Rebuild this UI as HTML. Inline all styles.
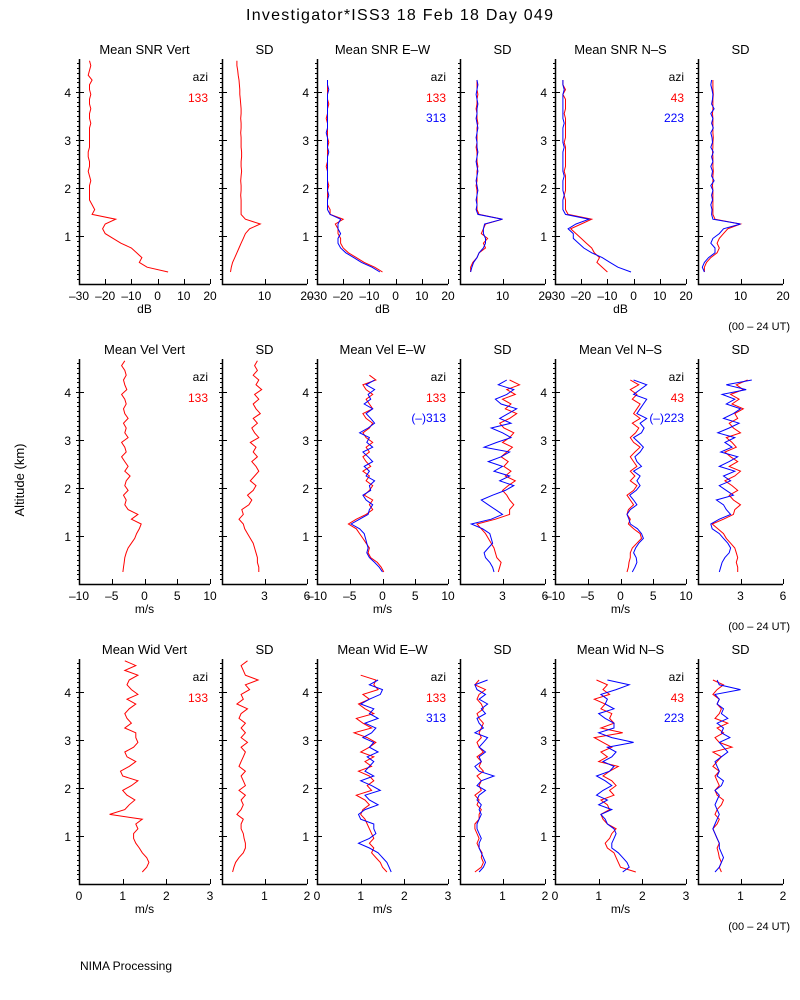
<!DOCTYPE html>
<html><head><meta charset="utf-8"><style>
body{margin:0;background:#fff;}
svg{display:block;font-family:"Liberation Sans",sans-serif;}
</style></head><body>
<svg id="c" width="800" height="1000" xmlns="http://www.w3.org/2000/svg">
<text x="246" y="20" font-size="16" textLength="307" lengthAdjust="spacing">Investigator*ISS3   18 Feb 18 Day 049</text>
<text x="24" y="480" font-size="13" text-anchor="middle" transform="rotate(-90 24 480)">Altitude (km)</text>
<text x="80" y="970" font-size="12">NIMA Processing</text>
</svg>
<script>
// ---- data (altitude start 0.25 km, step 0.1 km) ----
const snrVert133=[4,-4,-7,-6,-8,-10,-14,-17,-20,-21,-20,-16,-25,-24,-25,-26,-26,-26,-26,-25.5,-26,-26.5,-26,-26,-26.5,-26.5,-26,-26,-26,-26,-26,-25.5,-26,-26,-25.5,-26,-26,-25.5,-26,-26,-25,-26.5,-26,-25.5,-26];
const snrVertSd133=[2,2.2,2.5,3,3.5,4,4.5,5,5.5,6.5,9,5.5,4.5,4.5,4.5,4.5,4.4,4.5,4.5,4.4,4.5,4.6,4.5,4.5,4.6,4.6,4.5,4.5,4.5,4.4,4.5,4.5,4.4,4.5,4.5,4.4,4.3,4.2,4.2,4.1,4,3.8,3.7,3.5,3.5];
const snrEw133=[-5,-8,-12,-15,-18,-20,-21,-21,-22,-22,-23,-20,-25,-25,-26,-26,-26,-26,-25.5,-26,-26,-26,-26.5,-26,-26,-26,-26,-25.5,-26,-26,-26,-26,-26.5,-26,-26,-25.5,-26,-26,-26,-26,-26];
const snrEw313=[-6,-9,-13,-16,-19,-21,-22,-22,-21,-22,-22,-21,-25,-26,-26,-26,-25.5,-26,-26,-26,-26,-26,-26,-26,-26,-25.5,-26,-26,-26,-26.5,-26,-26,-26,-26,-26,-26,-26,-26,-25.5,-26,-26];
const snrEwSd133=[2.5,2.5,3,4,4.5,6,5.5,6.5,5,5.5,6,10,4.5,4,4,4,4,4,3.8,4,4,4,4.2,4,4,4,3.8,4,4,4,4,4.2,4,4,3.8,4,4,4.2,4,4,4];
const snrEwSd313=[2.5,2.8,3.2,4,4.5,5.5,6,6,5.5,5.5,5.8,10,4.2,3.8,4,3.8,4,4.2,4,3.8,4,4.2,4,3.8,4,4.2,4,4,3.8,4,4.2,4,3.8,4,4,4.2,4,3.8,4,4.2,4];
const snrNs43=[-10,-12,-14,-13,-15,-16,-18,-20,-22,-24,-20,-16,-25,-26,-26,-26,-26.5,-26,-26,-26,-26,-26.5,-26,-26,-26,-26,-26,-26.5,-26,-26,-26,-26,-26,-26.5,-26,-26,-26,-27,-26,-27,-27];
const snrNs223=[-1,-6,-9,-12,-16,-19,-21,-23,-23,-25,-22,-17,-26,-27,-27,-27,-26.5,-27,-27,-27,-26.5,-27,-27,-27,-27,-27,-26.5,-27,-27,-27,-27,-26.5,-27,-27,-27,-27,-27,-27,-26.5,-27,-27];
const snrNsSd43=[1.5,1.5,2,3,4.5,5,4.5,5,6,7,10,4,3.5,3.5,3.5,3.5,3.5,3.5,3.4,3.5,3.5,3.6,3.5,3.5,3.5,3.4,3.5,3.5,3.6,3.5,3.5,3.5,3.5,3.4,3.5,3.5,3.5,3.6,3.5,3.5,3.5];
const snrNsSd223=[1.5,1,1.5,2.5,4,4,3,3.5,5,6,10,3.5,3.2,3.3,3,3.4,3.2,3.5,3,3.8,3.2,3.4,3,3.5,3.2,3.6,3,3.4,3.3,3,3.6,3.2,3.5,3,3.8,3.2,3.4,3.5,3.3,3,3.2];
const velVert133=[-3.3,-3.2,-3.1,-3,-2.8,-2.5,-2,-1.5,-1.2,-0.8,-0.5,-2,-1,-2.5,-3,-2.8,-3.2,-2.5,-3,-2.8,-2.2,-3,-2.5,-3,-3.5,-2.8,-3,-3.5,-2.5,-3,-2.8,-3.2,-2.5,-3,-3.2,-2.8,-3,-3.5,-2.7,-3,-3.2,-2.8,-3,-3.5,-3];
const velVertSd133=[2.6,2.6,2.5,2.5,2.4,2.3,2.2,2,1.8,1.6,1.5,1.2,1.5,1.4,1.9,2.1,1.8,2.2,2.4,2.0,2.3,2.6,2.4,2.1,2.5,2.2,2.4,2.0,2.6,2.3,2.1,2.5,2.2,2.7,2.4,2.2,2.6,2.3,2.8,2.4,2.6,2.2,2.5,2.3,2.5];
const velEw133=[0.2,-0.2,-0.8,-1.8,-2.2,-2,-2.5,-3,-3.5,-4,-5.2,-4,-2.5,-1.5,-2,-1.5,-2.8,-2,-1.5,-2.5,-2,-3,-1.8,-2.5,-3,-2,-2.5,-1.5,-2.5,-3,-2,-1.5,-2.5,-3,-1.5,-2,-2.5,-1.5,-2.5,-3,-1,-2];
const velEw313=[0,-0.5,-1.2,-2,-2.4,-2.2,-2.4,-2.6,-2.8,-3.5,-4.8,-3.5,-2.2,-2,-1.5,-2.5,-3,-1.8,-2,-1.2,-2.5,-2,-2.8,-1.5,-2.2,-3,-1.5,-2.4,-2,-3.5,-2.2,-1.2,-1.8,-2.5,-1.5,-2.8,-1.8,-2.2,-1.2,-2.5,-1.2];
const velEwSd133=[2.7,2.8,2.9,2.6,2.5,2.4,2.2,2.0,1.8,1.5,1.2,2.5,3.5,3.5,3.8,3.5,3.3,3.0,3.4,3.9,3.2,3.6,3.1,3.4,2.9,3.3,3.7,3.0,3.5,3.8,3.1,2.8,3.5,4.0,3.2,3.6,3.0,3.9,3.3,4.2,3.5];
const velEwSd313=[2.4,2.3,2.1,1.8,1.7,2.0,2.3,2.2,2.1,1.6,0.8,2.2,3.0,2.5,2.0,1.5,2.3,3.2,3.8,2.8,3.5,2.4,3.0,2.0,2.9,3.5,1.7,2.6,3.6,3.0,2.2,3.6,2.8,3.4,4.0,2.9,2.5,3.3,3.8,2.7,3.3];
const velNs43=[1,1.2,1.3,1.5,1.5,1.8,2.5,3.2,3,2,1.2,1.5,1,1.2,2,1.5,1,2,2.5,1.5,2.2,1.5,2.5,2,1.5,2.2,3,2,1.5,2.3,2.8,1.8,3,2,2.5,3,1.8,2.5,1.5,2.8,1.5];
const velNs223=[1.8,2.2,2.5,2.4,2.0,2.3,2.8,3.5,3.2,2.6,1.5,1.3,1.0,1.5,2.5,2.0,1.4,2.4,3,2.5,3.0,2.0,3.2,2.5,2.2,3.0,3.5,2.8,2.0,3.2,3.6,3.0,4.0,2.5,3.0,3.5,4.0,2.0,3.0,4.0,2.0];
const velNsSd43=[2.8,2.8,2.7,2.8,2.7,2.6,2.3,2.0,1.8,1.4,1.0,1.8,2.5,2.6,3.0,2.5,2.2,2.8,2.4,1.9,2.6,3.0,2.2,2.8,2.3,1.9,2.7,2.4,2.0,3.0,2.5,2.2,2.8,2.6,3.2,2.4,2.9,2.3,3.2,2.7,3.5];
const velNsSd223=[1.5,1.6,1.7,1.9,2.2,2.3,2.1,1.8,1.5,1.0,0.9,1.5,2.3,2.0,1.8,1.3,2.5,2.0,1.5,2.3,1.8,2.6,1.5,2.2,2.8,1.6,2.4,1.9,2.6,1.4,2.2,2.9,1.8,2.5,3.0,2.0,2.6,1.7,3.4,2.0,3.8];
const widVert133=[1.45,1.55,1.6,1.55,1.45,1.38,1.3,1.25,1.25,1.35,1.3,1.45,0.7,1.05,1.15,1.28,1.1,1.0,1.2,1.35,1.0,0.95,1.15,1.3,1.1,1.05,1.25,1.35,1.3,1.3,1.05,1.2,1.1,1.05,1.15,1.3,1.1,1.35,1.2,1.1,1.15,1.35,1.05,1.3,1.05];
const widVertSd133=[0.25,0.28,0.32,0.4,0.5,0.55,0.55,0.52,0.5,0.45,0.45,0.5,0.35,0.45,0.5,0.45,0.55,0.4,0.55,0.5,0.45,0.55,0.4,0.45,0.5,0.55,0.45,0.6,0.45,0.55,0.45,0.55,0.4,0.45,0.6,0.35,0.5,0.45,0.65,0.55,0.85,0.55,0.5,0.45,0.6];
const widEw133=[1.6,1.5,1.45,1.35,1.25,1.3,1.2,1.3,1.25,1.2,1.15,1.1,1.0,1.05,1.2,1.1,0.9,1.25,1.15,1.3,1.2,0.95,1.25,1.1,1.3,1.0,1.2,1.35,1.15,0.85,1.25,1.05,0.9,1.3,1.1,0.95,1.2,1.05,1.4,1.3,1.35,1.0];
const widEw313=[1.7,1.65,1.6,1.5,1.4,1.2,0.95,1.2,1.35,1.3,1.3,1.0,0.95,1.1,1.4,1.2,1.1,1.45,1.25,1.0,1.3,1.1,1.2,1.3,1.15,1.4,1.2,1.3,1.05,1.25,1.35,1.1,1.4,1.2,1.3,1.0,1.2,1.45,1.5,1.2,1.4];
const widEwSd133=[0.35,0.5,0.55,0.5,0.52,0.45,0.4,0.45,0.4,0.35,0.35,0.45,0.45,0.5,0.4,0.45,0.35,0.5,0.45,0.5,0.4,0.55,0.45,0.5,0.4,0.55,0.45,0.4,0.5,0.45,0.5,0.55,0.45,0.4,0.55,0.5,0.4,0.45,0.6,0.35,0.45];
const widEwSd313=[0.45,0.55,0.6,0.55,0.5,0.45,0.45,0.5,0.45,0.4,0.4,0.45,0.5,0.45,0.5,0.4,0.45,0.6,0.4,0.5,0.8,0.45,0.35,0.5,0.45,0.6,0.45,0.55,0.65,0.35,0.55,0.45,0.4,0.6,0.5,0.65,0.45,0.6,0.4,0.35,0.65];
const widNs43=[1.85,1.5,1.45,1.4,1.35,1.2,1.15,1.25,1.3,1.4,1.2,1.1,1.05,1.25,1.2,1.05,1.35,1.25,1.4,1.3,1.1,1.25,1.45,1.0,1.2,1.05,1.3,1.1,0.9,1.55,1.05,1.35,1.25,1.3,1.05,1.15,0.9,1.25,1.1,1.2,0.95];
const widNs223=[1.55,1.7,1.65,1.55,1.45,1.3,1.3,1.35,1.4,1.35,1.2,1.15,1.05,1.3,1.0,1.2,0.95,1.1,1.3,1.15,0.95,1.25,1.35,1.1,1.3,1.4,1.2,1.8,1.3,1.0,1.35,1.35,1.15,1.0,1.35,1.15,1.2,1.05,1.4,1.7,1.2];
const widNsSd43=[0.55,0.5,0.55,0.5,0.48,0.45,0.5,0.45,0.4,0.35,0.45,0.5,0.4,0.45,0.55,0.6,0.45,0.4,0.5,0.45,0.4,0.5,0.35,0.45,0.55,0.35,0.8,0.5,0.4,0.6,0.45,0.7,0.4,0.5,0.55,0.45,0.5,0.35,0.45,0.6,0.35];
const widNsSd223=[0.4,0.5,0.55,0.6,0.55,0.5,0.5,0.45,0.4,0.35,0.4,0.45,0.5,0.45,0.4,0.45,0.5,0.4,0.55,0.6,0.45,0.5,0.45,0.4,0.55,0.7,0.6,0.5,0.75,0.55,0.6,0.45,0.7,0.55,0.6,0.45,0.5,0.4,1.0,0.5,0.45];
const altStart=0.25, altStep=0.1;
const yTicks=[1,2,3,4];
const snrTicks=[-30,-20,-10,0,10,20], snrSdTicks=[10,20];
const velTicks=[-10,-5,0,5,10], velSdTicks=[3,6];
const widTicks=[0,1,2,3], widSdTicks=[1,2];

const svg=document.getElementById('c');
const NS='http://www.w3.org/2000/svg';
function mk(tag,attrs,parent){const e=document.createElementNS(NS,tag);for(const k in attrs)e.setAttribute(k,attrs[k]);(parent||svg).appendChild(e);return e;}
const cols=[[79,131],[222,85],[317,131],[460,85],[555,131],[698,85]];
const rowsB=[284,584,884];
const KM=48;
const R='#ff0000',B='#0000ff';
const panels=[
 {r:0,c:0,t:'Mean SNR Vert',d:[-30,20],ticks:snrTicks,u:'dB',s:[[snrVert133,R]],lg:[['133',R]],name:'snr-vert'},
 {r:0,c:1,t:'SD',d:[0,20],ticks:snrSdTicks,s:[[snrVertSd133,R]],name:'snr-vert-sd'},
 {r:0,c:2,t:'Mean SNR E\u2013W',d:[-30,20],ticks:snrTicks,u:'dB',s:[[snrEw133,R],[snrEw313,B]],lg:[['133',R],['313',B]],name:'snr-ew'},
 {r:0,c:3,t:'SD',d:[0,20],ticks:snrSdTicks,s:[[snrEwSd133,R],[snrEwSd313,B]],name:'snr-ew-sd'},
 {r:0,c:4,t:'Mean SNR N\u2013S',d:[-30,20],ticks:snrTicks,u:'dB',s:[[snrNs43,R],[snrNs223,B]],lg:[['43',R],['223',B]],name:'snr-ns'},
 {r:0,c:5,t:'SD',d:[0,20],ticks:snrSdTicks,s:[[snrNsSd43,R],[snrNsSd223,B]],name:'snr-ns-sd'},
 {r:1,c:0,t:'Mean Vel Vert',d:[-10,10],ticks:velTicks,u:'m/s',s:[[velVert133,R]],lg:[['133',R]],name:'vel-vert'},
 {r:1,c:1,t:'SD',d:[0,6],ticks:velSdTicks,s:[[velVertSd133,R]],name:'vel-vert-sd'},
 {r:1,c:2,t:'Mean Vel E\u2013W',d:[-10,10],ticks:velTicks,u:'m/s',s:[[velEw133,R],[velEw313,B]],lg:[['133',R],['(\u2013)313',B]],name:'vel-ew'},
 {r:1,c:3,t:'SD',d:[0,6],ticks:velSdTicks,s:[[velEwSd133,R],[velEwSd313,B]],name:'vel-ew-sd'},
 {r:1,c:4,t:'Mean Vel N\u2013S',d:[-10,10],ticks:velTicks,u:'m/s',s:[[velNs43,R],[velNs223,B]],lg:[['43',R],['(\u2013)223',B]],name:'vel-ns'},
 {r:1,c:5,t:'SD',d:[0,6],ticks:velSdTicks,s:[[velNsSd43,R],[velNsSd223,B]],name:'vel-ns-sd'},
 {r:2,c:0,t:'Mean Wid Vert',d:[0,3],ticks:widTicks,u:'m/s',s:[[widVert133,R]],lg:[['133',R]],name:'wid-vert'},
 {r:2,c:1,t:'SD',d:[0,2],ticks:widSdTicks,s:[[widVertSd133,R]],name:'wid-vert-sd'},
 {r:2,c:2,t:'Mean Wid E\u2013W',d:[0,3],ticks:widTicks,u:'m/s',s:[[widEw133,R],[widEw313,B]],lg:[['133',R],['313',B]],name:'wid-ew'},
 {r:2,c:3,t:'SD',d:[0,2],ticks:widSdTicks,s:[[widEwSd133,R],[widEwSd313,B]],name:'wid-ew-sd'},
 {r:2,c:4,t:'Mean Wid N\u2013S',d:[0,3],ticks:widTicks,u:'m/s',s:[[widNs43,R],[widNs223,B]],lg:[['43',R],['223',B]],name:'wid-ns'},
 {r:2,c:5,t:'SD',d:[0,2],ticks:widSdTicks,s:[[widNsSd43,R],[widNsSd223,B]],name:'wid-ns-sd'}
];
panels.forEach(p=>{
  const [x0,w]=cols[p.c]; const yb=rowsB[p.r]; const yt=yb-225;
  const g=mk('g',{});
  
  
  const xs=v=>x0+(v-p.d[0])/(p.d[1]-p.d[0])*w;
  const ys=a=>yb-a*KM;
  const t=mk('text',{x:x0+w/2,y:yt-5,'font-size':13,'text-anchor':'middle'},g);t.textContent=p.t;
  
  
  const ax=mk('path',{d:`M${x0+0.5},${yt} V${yb+0.5} H${x0+w}`,stroke:'#000','stroke-width':1.5,fill:'none'},g);
  
  
  let dd='';
  for(let a=0.1;a<4.69;a+=0.1){const y=Math.round(ys(a))+0.5;dd+=`M${x0-2},${y}H${x0}`;}
  yTicks.forEach(a=>{const y=Math.round(ys(a))+0.5;dd+=`M${x0-3},${y}H${x0+5}`;});
  p.ticks.forEach(v=>{const x=Math.round(xs(v))+0.5;dd+=`M${x},${yb}V${yb-5}`;});
  mk('path',{d:dd,stroke:'#000','stroke-width':1,fill:'none'},g);
  if(p.c%2===0){yTicks.forEach(a=>{const l=mk('text',{x:x0-8,y:ys(a)+5,'font-size':12,'text-anchor':'end'},g);l.textContent=a;
    
    });}
  p.ticks.forEach(v=>{const l=mk('text',{x:xs(v),y:yb+16,'font-size':12,'text-anchor':'middle'},g);l.textContent=String(v).replace('-','\u2013');
    
    });
  if(p.u){const l=mk('text',{x:x0+w/2,y:yb+29,'font-size':12,'text-anchor':'middle'},g);l.textContent=p.u;
    
    }
  p.s.forEach(([arr,col],si)=>{
    const pts=arr.map((v,i)=>xs(v).toFixed(1)+','+ys(altStart+i*altStep).toFixed(1)).join(' ');
    const pl=mk('polyline',{points:pts,fill:'none',stroke:col,'stroke-width':1},g);
    
    
  });
  if(p.lg){
    const a=mk('text',{x:x0+w-2,y:yt+22,'font-size':12,'text-anchor':'end'},g);a.textContent='azi';
    
    
    p.lg.forEach(([s,col],i)=>{const l=mk('text',{x:x0+w-2,y:yt+43+i*20,'font-size':12,'text-anchor':'end',fill:col},g);l.textContent=s;
      
      });
  }
});
rowsB.forEach(yb=>{const l=mk('text',{x:790,y:yb+46,'font-size':11,'text-anchor':'end'});l.textContent='(00 \u2013 24 UT)';
  
  });
</script>
</body></html>
